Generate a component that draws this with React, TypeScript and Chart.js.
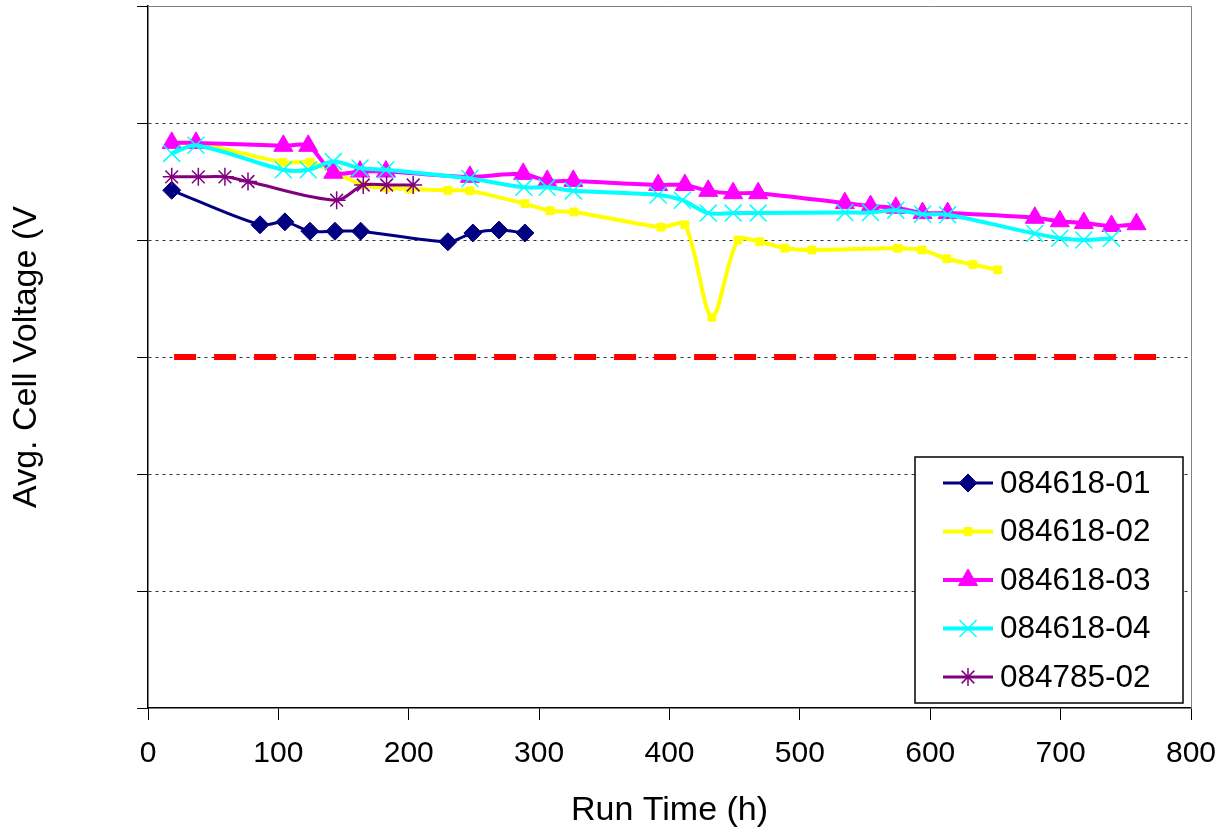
import React, { useEffect, useRef } from 'react';
import { Chart, registerables } from 'chart.js';

Chart.register(...registerables);

const FONT = '"Liberation Sans", Arial, sans-serif';

const xTickMin = 0;
const xTickMax = 800;
const xTickStep = 100;
const yMin = 0;
const yMax = 1.2;
const yStep = 0.2;

const seriesNames = ['084618-01', '084618-02', '084618-03', '084618-04', '084785-02'];
const seriesColors = ['#000080', '#FFFF00', '#FF00FF', '#00FFFF', '#800080'];

const hours01 = [18.2, 85.9, 105, 124.2, 143.4, 163.1, 230, 249.2, 269.2, 289.1];
const volts01 = [0.885, 0.826, 0.831, 0.815, 0.815, 0.815, 0.797, 0.812, 0.817, 0.812];

const hours02 = [18.4, 36.8, 103.5, 124.2, 144.2, 164.1, 182.5, 200.9, 230, 246.9, 289.1, 308.3, 326.7, 393.4, 411.8, 432.5, 452.5, 469.3, 488.5, 509.2, 575.2, 593.6, 612.7, 632.7, 651.8];
const volts02 = [0.966, 0.966, 0.933, 0.933, 0.915, 0.894, 0.889, 0.887, 0.885, 0.884, 0.862, 0.85, 0.848, 0.822, 0.826, 0.668, 0.8, 0.797, 0.786, 0.783, 0.786, 0.783, 0.768, 0.758, 0.749];

const hours03 = [18.2, 36.8, 103.8, 122.9, 142.1, 162.6, 182.5, 246.9, 287.8, 306.2, 326.2, 391.3, 411.8, 429.7, 448.8, 468, 534.5, 554.2, 573.6, 594.1, 613.3, 680.2, 699.4, 717.8, 739, 758.2];
const volts03 = [0.966, 0.966, 0.961, 0.961, 0.915, 0.917, 0.917, 0.908, 0.913, 0.901, 0.901, 0.894, 0.894, 0.884, 0.88, 0.88, 0.863, 0.858, 0.855, 0.846, 0.846, 0.838, 0.832, 0.829, 0.824, 0.827];

const hours04 = [18.2, 36.8, 103.8, 122.9, 142.1, 162.6, 182.5, 246.9, 288.3, 306.2, 326.2, 391.3, 409.9, 429.7, 448.8, 468, 534.5, 554.2, 573.6, 594.1, 613.3, 680.2, 699.4, 717.8, 739];
const volts04 = [0.948, 0.962, 0.92, 0.92, 0.934, 0.923, 0.92, 0.905, 0.89, 0.89, 0.884, 0.877, 0.868, 0.846, 0.846, 0.846, 0.847, 0.847, 0.851, 0.844, 0.843, 0.811, 0.803, 0.8, 0.803];

const hours05 = [18.2, 38.6, 59, 76.7, 144.7, 165.1, 183, 203.4];
const volts05 = [0.908, 0.908, 0.908, 0.9, 0.868, 0.894, 0.894, 0.894];

const limitHours = [20, 775];
const limitVolts = [0.6, 0.6];

const toPoints = (xs: number[], ys: number[]) => xs.map((x, i) => ({ x, y: ys[i] }));

type MarkerStyle = 'rectRot' | 'rect' | 'triangle' | 'crossRot' | 'star';
const markerStyles: MarkerStyle[] = ['rectRot', 'rect', 'triangle', 'crossRot', 'star'];
const markerRadius = [9, 5.5, 11, 12, 9];
const markerBorder = [1, 1, 1, 1.5, 1.5];
const lineWidths = [3, 4, 4, 4, 3];

function drawMarker(ctx: CanvasRenderingContext2D, style: MarkerStyle, x: number, y: number, r: number, color: string, lw: number) {
  ctx.save();
  ctx.fillStyle = color;
  ctx.strokeStyle = color;
  ctx.lineWidth = lw;
  ctx.beginPath();
  if (style === 'rectRot') {
    ctx.moveTo(x - r, y);
    ctx.lineTo(x, y - r);
    ctx.lineTo(x + r, y);
    ctx.lineTo(x, y + r);
    ctx.closePath();
    ctx.fill();
    ctx.stroke();
  } else if (style === 'rect') {
    const s = Math.SQRT1_2 * r;
    ctx.rect(x - s, y - s, 2 * s, 2 * s);
    ctx.fill();
    ctx.stroke();
  } else if (style === 'triangle') {
    ctx.moveTo(x, y - r);
    ctx.lineTo(x + r * Math.cos(Math.PI / 6), y + r / 2);
    ctx.lineTo(x - r * Math.cos(Math.PI / 6), y + r / 2);
    ctx.closePath();
    ctx.fill();
    ctx.stroke();
  } else if (style === 'crossRot') {
    const d = r * Math.SQRT1_2;
    ctx.moveTo(x - d, y - d);
    ctx.lineTo(x + d, y + d);
    ctx.moveTo(x - d, y + d);
    ctx.lineTo(x + d, y - d);
    ctx.stroke();
  } else {
    const d = r * Math.SQRT1_2;
    ctx.moveTo(x - d, y - d);
    ctx.lineTo(x + d, y + d);
    ctx.moveTo(x - d, y + d);
    ctx.lineTo(x + d, y - d);
    ctx.moveTo(x, y - r);
    ctx.lineTo(x, y + r);
    ctx.moveTo(x - r, y);
    ctx.lineTo(x + r, y);
    ctx.stroke();
  }
  ctx.restore();
}

const frameAndLegend = {
  id: 'frameAndLegend',
  beforeDatasetsDraw(chart: any) {
    const { ctx, chartArea } = chart;
    ctx.save();
    ctx.strokeStyle = '#808080';
    ctx.lineWidth = 1;
    ctx.beginPath();
    ctx.moveTo(chartArea.left, chartArea.top + 0.5);
    ctx.lineTo(chartArea.right + 0.5, chartArea.top + 0.5);
    ctx.lineTo(chartArea.right + 0.5, chartArea.bottom);
    ctx.stroke();
    ctx.restore();
  },
  afterDatasetsDraw(chart: any) {
    const { ctx, chartArea } = chart;
    const boxRight = chartArea.right - 8;
    const boxLeft = boxRight - 268;
    const boxBottom = chartArea.bottom - 5;
    const boxTop = boxBottom - 246;
    ctx.save();
    ctx.fillStyle = '#ffffff';
    ctx.fillRect(boxLeft, boxTop, boxRight - boxLeft, boxBottom - boxTop);
    ctx.strokeStyle = '#000000';
    ctx.lineWidth = 1.5;
    ctx.strokeRect(boxLeft, boxTop, boxRight - boxLeft, boxBottom - boxTop);
    const rowGap = 48.5;
    const firstRow = boxTop + 26;
    ctx.font = `31.5px ${FONT}`;
    ctx.textBaseline = 'middle';
    ctx.textAlign = 'left';
    seriesNames.forEach((name, i) => {
      const y = firstRow + i * rowGap;
      const x0 = boxLeft + 28;
      const x1 = x0 + 50;
      ctx.strokeStyle = seriesColors[i];
      ctx.lineWidth = lineWidths[i];
      ctx.beginPath();
      ctx.moveTo(x0, y);
      ctx.lineTo(x1, y);
      ctx.stroke();
      drawMarker(ctx, markerStyles[i], (x0 + x1) / 2, y, markerRadius[i], seriesColors[i], markerBorder[i]);
      ctx.fillStyle = '#000000';
      ctx.fillText(name, x1 + 7, y + 1);
    });
    ctx.restore();
  },
};

const zeroPadding = (scale: any) => {
  scale.paddingTop = 0;
  scale.paddingBottom = 0;
  scale.paddingLeft = 0;
  scale.paddingRight = 0;
};

export default function App() {
  const canvasRef = useRef<HTMLCanvasElement | null>(null);

  useEffect(() => {
    if (!canvasRef.current) return;
    const seriesData = [
      toPoints(hours01, volts01),
      toPoints(hours02, volts02),
      toPoints(hours03, volts03),
      toPoints(hours04, volts04),
      toPoints(hours05, volts05),
    ];
    const datasets: any[] = seriesData.map((data, i) => ({
      label: seriesNames[i],
      data,
      borderColor: seriesColors[i],
      backgroundColor: seriesColors[i],
      borderWidth: lineWidths[i],
      pointStyle: markerStyles[i],
      pointRadius: markerRadius[i],
      pointHoverRadius: markerRadius[i],
      pointBorderWidth: markerBorder[i],
      pointBorderColor: seriesColors[i],
      pointBackgroundColor: seriesColors[i],
      tension: 0.3,
      fill: false,
      order: 10 - i,
    }));
    datasets.push({
      label: 'limit',
      data: toPoints(limitHours, limitVolts),
      borderColor: '#FF0000',
      borderWidth: 6,
      borderDash: [22, 18],
      pointRadius: 0,
      fill: false,
      order: 0,
    });

    const chart = new Chart(canvasRef.current, {
      type: 'line',
      data: { datasets },
      plugins: [frameAndLegend],
      options: {
        animation: false,
        responsive: true,
        maintainAspectRatio: false,
        layout: { autoPadding: false, padding: { left: 0, top: 6, right: 31, bottom: 0 } },
        plugins: {
          legend: { display: false },
          tooltip: { enabled: false },
          title: { display: false },
        },
        scales: {
          x: {
            type: 'linear',
            min: xTickMin,
            max: xTickMax,
            ticks: {
              stepSize: xTickStep,
              color: '#000',
              font: { family: FONT, size: 30 },
              padding: 16,
            },
            grid: {
              drawOnChartArea: false,
              drawTicks: true,
              tickLength: 12,
              tickColor: '#000',
              tickWidth: 1,
            },
            border: { color: '#000', width: 1.5 },
            title: {
              display: true,
              text: 'Run Time (h)',
              color: '#000',
              font: { family: FONT, size: 34 },
              padding: { top: 0, bottom: 0 },
            },
            afterFit: (scale: any) => {
              scale.height = 123;
              zeroPadding(scale);
            },
          },
          y: {
            type: 'linear',
            min: yMin,
            max: yMax,
            ticks: {
              stepSize: yStep,
              display: false,
            },
            grid: {
              color: (c: any) => {
                const v = c.tick ? c.tick.value : 0;
                if (Math.abs(v - yMin) < 1e-6 || Math.abs(v - yMax) < 1e-6) return 'rgba(0,0,0,0)';
                return '#333333';
              },
              lineWidth: 1,
              drawTicks: true,
              tickLength: 11,
              tickColor: '#000',
              tickWidth: 1,
              tickBorderDash: [],
            },
            border: { color: '#000', width: 1.5, dash: [3, 4] },
            title: {
              display: true,
              text: 'Avg. Cell Voltage (V',
              color: '#000',
              font: { family: FONT, size: 34 },
              padding: { top: 6, bottom: 0 },
            },
            afterFit: (scale: any) => {
              scale.width = 148;
              zeroPadding(scale);
            },
          },
        },
      } as any,
    });
    return () => chart.destroy();
  }, []);

  return (
    <div style={{ position: 'absolute', left: 0, top: 0, width: 1222, height: 831, background: '#fff' }}>
      <canvas ref={canvasRef} />
    </div>
  );
}
